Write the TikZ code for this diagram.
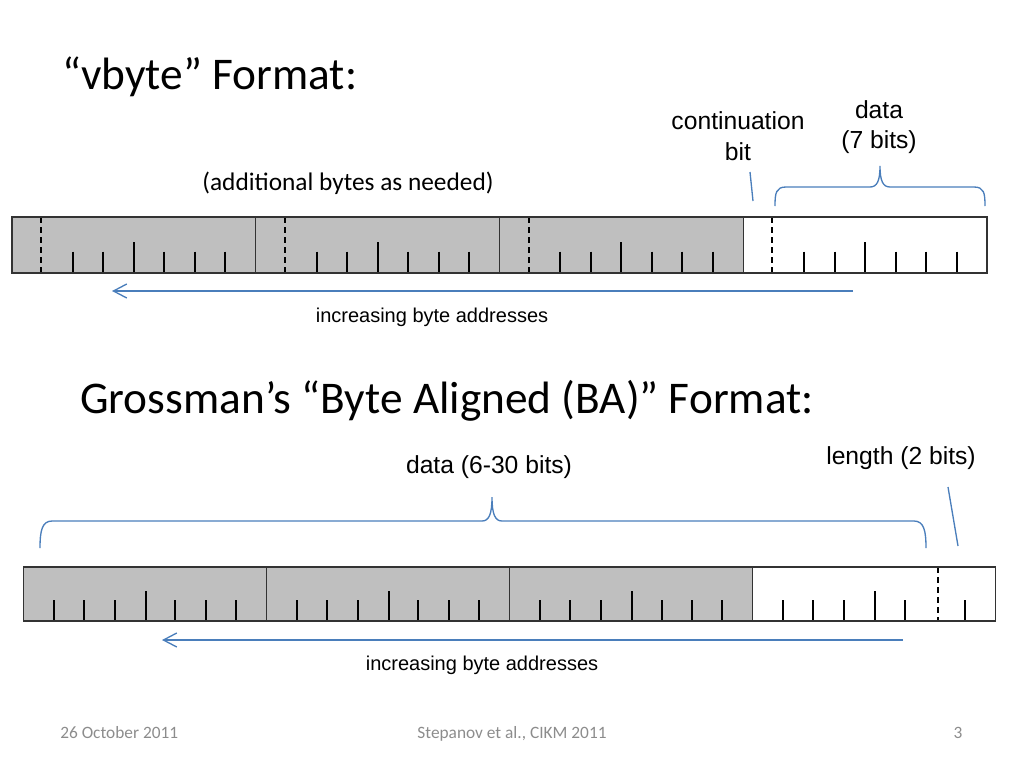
\documentclass[tikz,border=0pt]{standalone}
\usepackage{fontspec}
\setmainfont{Carlito}
\newfontfamily\arialf{Liberation Sans}
\usetikzlibrary{arrows.meta}
\definecolor{barfill}{HTML}{BFBFBF}
\definecolor{accent}{HTML}{4A7EBB}
\definecolor{foot}{HTML}{8C8C8C}
\begin{document}
\begin{tikzpicture}[x=0.75pt,y=-0.75pt,
  bar/.style={draw=black!80, line width=1.1pt},
  tick/.style={draw=black, line width=1.5pt},
  dashline/.style={draw=black, line width=1.5pt, dash pattern=on 4.5pt off 3pt},
  accentline/.style={draw=accent, line width=1pt},
  addrarrow/.style={accentline, -{Straight Barb[length=10pt,width=10.5pt,line width=1pt]}},
  title/.style={font=\fontsize{34}{40}\selectfont, anchor=west, inner sep=0pt},
  label/.style={font=\arialf\fontsize{18.5}{23}\selectfont, align=center, inner sep=0pt},
  small/.style={font=\arialf\fontsize{15}{18}\selectfont, inner sep=0pt},
  note/.style={font=\fontsize{19}{23}\selectfont, inner sep=0pt},
  footer/.style={font=\fontsize{13}{16}\selectfont, text=foot, inner sep=0pt, anchor=base}]
\useasboundingbox (0,0) rectangle (1024,768);

% ---------- vbyte ----------
\node[title] (t1) at (62,77) {“vbyte” Format:};
\node[note] (add) at (348,183) {(additional bytes as needed)};
\node[label] (cont) at (738,136) {continuation\\bit};
\node[label] (d7) at (879,127) {data\\(7 bits)};

\foreach \k/\col in {0/barfill,1/barfill,2/barfill,3/white}{
  \pgfmathsetmacro\xa{12+243.75*\k}
  \fill[\col] (\xa,217) rectangle ++(243.75,56);
  \draw[dashline] (\xa+29.0,217) -- (\xa+29.0,273);
  \foreach \i in {2,3,5,6,7}
    \draw[tick] (\xa+30.47*\i,251.7) -- (\xa+30.47*\i,273);
  \draw[tick] (\xa+121.9,242) -- (\xa+121.9,273);
  \draw[bar] (\xa,217) rectangle ++(243.75,56);
}
\coordinate (contend) at (753,201);
\draw[accentline] (750,172) -- (contend);
\draw[accentline] (775,206) .. controls (775,193) and (776,187) .. (786,187)
  -- (870,187) .. controls (877,187) and (880,181) .. (880,166)
  .. controls (880,181) and (883,187) .. (890,187)
  -- (974,187) .. controls (984,187) and (985,193) .. (985,206);
\coordinate (a1s) at (853,291);
\coordinate (a1e) at (112,291);
\draw[addrarrow] (a1s) -- (a1e);
\node[small] (inc1) at (432,317) {increasing byte addresses};

% ---------- Grossman BA ----------
\node[title] (t2) at (80,401) {Grossman’s “Byte Aligned (BA)” Format:};
\node[label] (d630) at (489,467) {data (6-30 bits)};
\node[label] (len) at (901,458) {length (2 bits)};

\foreach \k/\col in {0/barfill,1/barfill,2/barfill,3/white}{
  \pgfmathsetmacro\xa{23.3+243.1*\k}
  \fill[\col] (\xa,567) rectangle ++(243.1,54);
  \ifnum\k=3
    \foreach \i in {1,2,3,5,7}
      \draw[tick] (\xa+30.4*\i,600) -- (\xa+30.4*\i,621);
    \draw[dashline] (\xa+185.3,567) -- (\xa+185.3,621);
  \else
    \foreach \i in {1,2,3,5,6,7}
      \draw[tick] (\xa+30.4*\i,600) -- (\xa+30.4*\i,621);
  \fi
  \draw[tick] (\xa+122.3,591) -- (\xa+122.3,621);
  \draw[bar] (\xa,567) rectangle ++(243.1,54);
}
\draw[accentline] (40,548) .. controls (40,531) and (42,521) .. (52,521)
  -- (482,521) .. controls (489,521) and (492,514) .. (492,497)
  .. controls (492,514) and (495,521) .. (502,521)
  -- (914,521) .. controls (924,521) and (926,531) .. (926,548);
\coordinate (lenend) at (958,546);
\draw[accentline] (948,487) -- (lenend);
\coordinate (a2s) at (903,640);
\coordinate (a2e) at (162,640);
\draw[addrarrow] (a2s) -- (a2e);
\node[small] (inc2) at (482,665) {increasing byte addresses};

% ---------- footer ----------
\node[footer, anchor=base west] (f1) at (60,738) {26 October 2011};
\node[footer] (f2) at (512,738) {Stepanov et al., CIKM 2011};
\node[footer] (f3) at (958,738) {3};
\end{tikzpicture}
\end{document}
